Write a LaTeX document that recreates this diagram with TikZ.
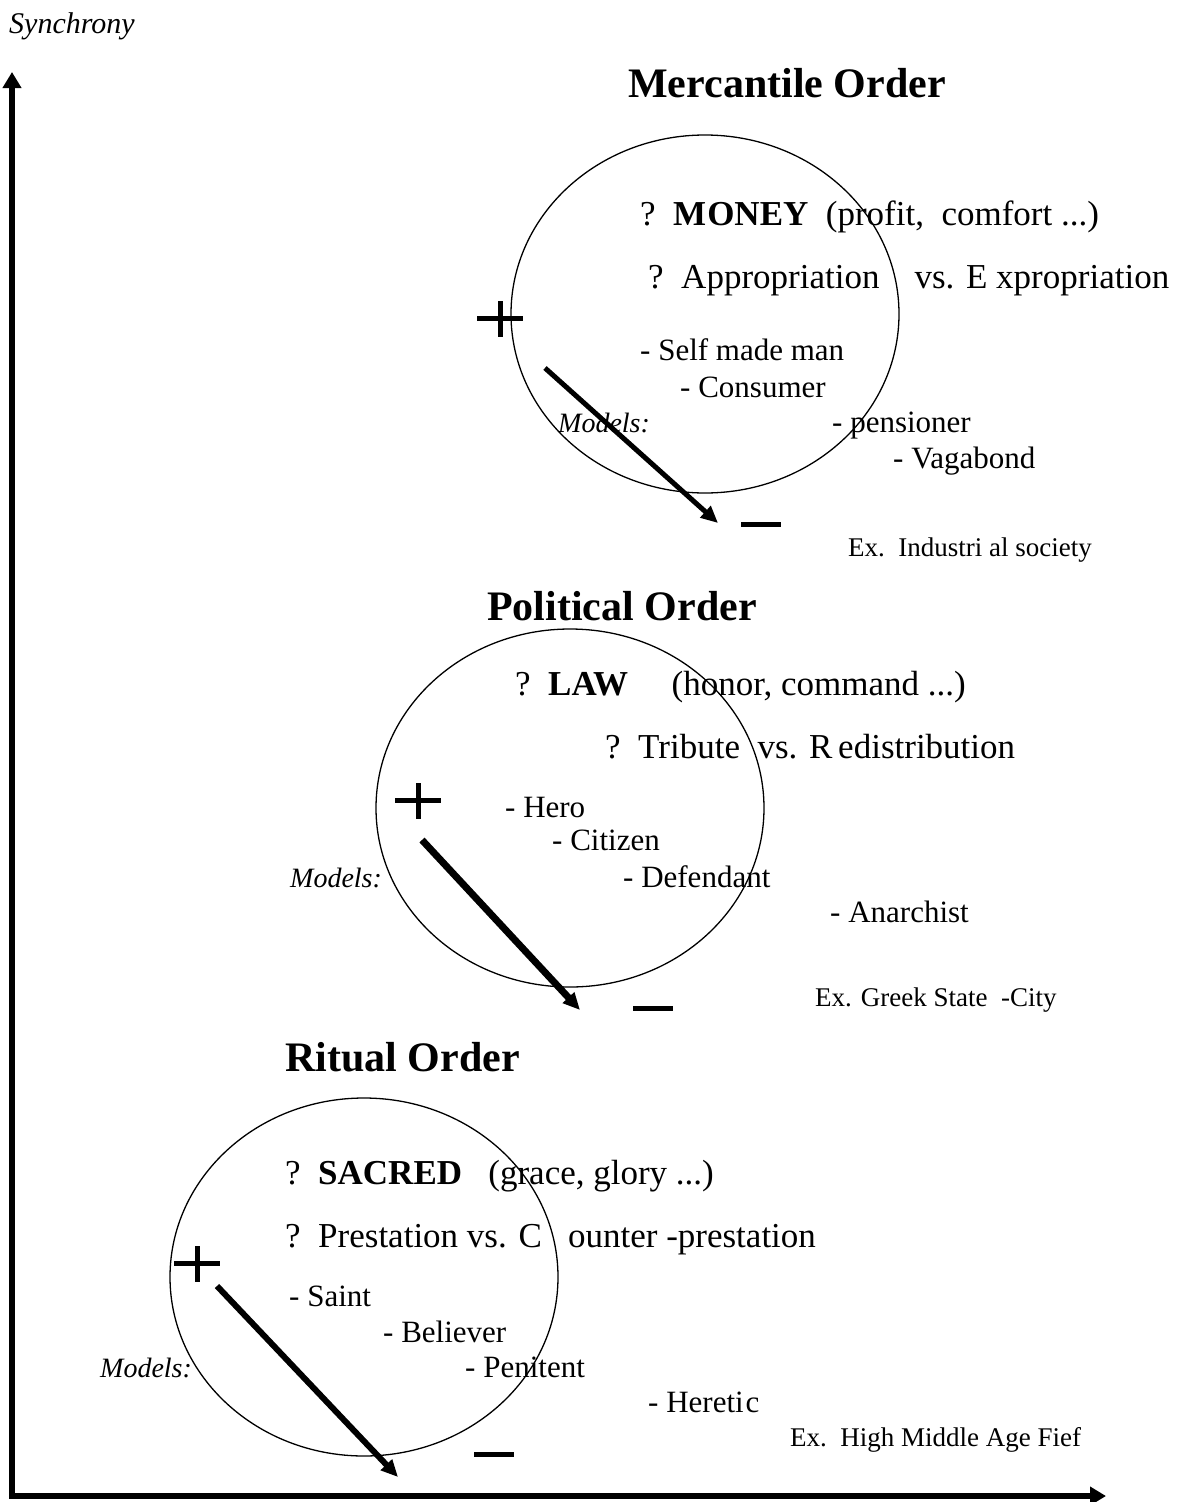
\documentclass[tikz,border=0pt]{standalone}
\usepackage{fontspec}
\setmainfont{Liberation Serif}
\usetikzlibrary{positioning, arrows.meta, shapes.geometric}

\begin{document}
\begin{tikzpicture}[
  x=1pt, y=-1pt,
  every node/.style={inner sep=0pt, anchor=base west},
  title/.style={font=\fontsize{42}{48}\selectfont\bfseries},
  value/.style={font=\fontsize{35}{40}\selectfont},
  figure/.style={font=\fontsize{31}{36}\selectfont},
  modelsl/.style={font=\fontsize{28}{32}\selectfont\itshape},
  example/.style={font=\fontsize{27}{31}\selectfont},
  ring/.style={ellipse, draw=black, line width=1.3pt, anchor=center,
    minimum width=388pt, minimum height=358pt},
  arr/.style={-{Triangle[length=17pt,width=15pt]}, line width=#1},
  axis/.style={{Triangle[length=16pt,width=18pt]}-{Triangle[length=16pt,width=18pt]},
    line width=6pt, line join=miter},
  pics/plusmark/.style={code={
    \draw[line width=5pt] (-23,0) -- (23,0) (0,-17) -- (0,19);}},
  pics/minusmark/.style={code={
    \draw[line width=5pt] (-20,0) -- (20,0);}},
]
\useasboundingbox (0,0) rectangle (1182,1502);

%% Axes
\coordinate (ytop) at (12,72);
\coordinate (origin) at (12,1496);
\coordinate (xend) at (1106,1496);
\draw[axis] (ytop) -- (origin) -- (xend);
\node[font=\fontsize{30}{34}\selectfont\itshape] (synchrony) at (9,33) {Synchrony};

%% Mercantile Order
\node[title] (merctitle) at (628,97) {Mercantile Order};
\node[ring] (mercring) at (705,314) {};
\node[value] (money) at (640,225) {?\ \ \textbf{M\kern1pt ONEY}\ \ (profit,\ \ comfort ...)};
\node[value] (approp) at (648,288) {?\ \ Appropriation\ \ \ \ vs. E\ xpropriation};
\node[figure] (selfmade) at (640,360) {- Self made man};
\node[figure] (consumer) at (680,397) {- Consumer};
\node[modelsl] (mercmodels) at (558,432) {Models:};
\node[figure] (pensioner) at (832,432) {- pensioner};
\node[figure] (vagabond) at (893,468) {- Vagabond};
\node[example] (mercex) at (848,556) {Ex.\ \ Industri al\ society};
\pic at (500,318) {plusmark};
\pic at (761,524) {minusmark};
\coordinate (mercfrom) at (545,368);
\coordinate (mercto) at (718,523);
\draw[arr=5pt] (mercfrom) -- (mercto);

%% Political Order
\node[title] (poltitle) at (487,620) {Political Order};
\node[ring] (polring) at (570,808) {};
\node[value] (law) at (515,695) {?\ \ \textbf{LAW}\ \ \ \ \ (honor, command ...)};
\node[value] (tribute) at (605,758) {?\ \ Tribute\ \ vs. R\,edistribution};
\node[figure] (hero) at (505,817) {- Hero};
\node[figure] (citizen) at (552,850) {- Citizen};
\node[modelsl] (polmodels) at (290,887) {Models:};
\node[figure] (defendant) at (623,887) {- Defendant};
\node[figure] (anarchist) at (830,922) {- Anarchist};
\node[example] (polex) at (815,1006) {Ex. Greek State\ \ -City};
\pic at (418,800) {plusmark};
\pic at (653,1008) {minusmark};
\coordinate (polfrom) at (422,840);
\coordinate (polto) at (580,1010);
\draw[arr=7pt] (polfrom) -- (polto);

%% Ritual Order
\node[title] (rittitle) at (285,1071) {Ritual Order};
\node[ring] (ritring) at (364,1277) {};
\node[value] (sacred) at (285,1184) {?\ \ \textbf{SACRED}\ \ \ (grace, glory ...)};
\node[value] (prestation) at (285,1247) {?\ \ Prestation vs. C\ \ \ ounter -prestation};
\node[figure] (saint) at (289,1306) {- Saint};
\node[figure] (believer) at (383,1342) {- Believer};
\node[modelsl] (ritmodels) at (100,1377) {Models:};
\node[figure] (penitent) at (465,1377) {- Penitent};
\node[figure] (heretic) at (648,1412) {- Hereti\kern2pt c};
\node[example] (ritex) at (790,1446) {Ex.\ \ High Middle Age Fief};
\pic at (197,1263) {plusmark};
\pic at (494,1454) {minusmark};
\coordinate (ritfrom) at (217,1286);
\coordinate (ritto) at (398,1477);
\draw[arr=6pt] (ritfrom) -- (ritto);

\end{tikzpicture}
\end{document}
